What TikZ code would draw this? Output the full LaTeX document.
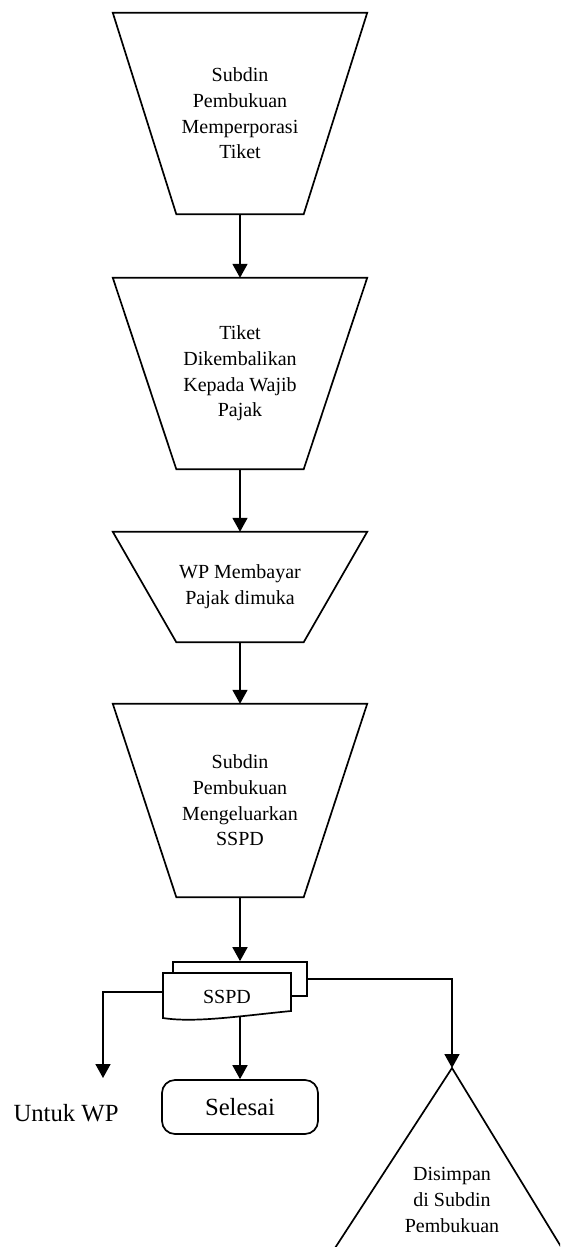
\documentclass[tikz,border=0pt]{standalone}
\usepackage{fontspec}
\setmainfont{Liberation Serif}
\usetikzlibrary{arrows.meta}
\tikzset{
  stroke/.style={line width=1.7pt, line join=miter},
  flow/.style={stroke, -{Triangle[length=14pt,width=15pt]}},
  txt/.style={inner sep=0pt, align=center, font=\fontsize{20}{25.7}\selectfont},
  proc/.style={txt, minimum width=254pt},
  bigtxt/.style={inner sep=0pt, align=center, font=\fontsize{24.7}{30}\selectfont},
}
\begin{document}
\begin{tikzpicture}[x=1pt,y=-1pt]
\useasboundingbox (0,0) rectangle (560,1247);
\clip (0,0) rectangle (560,1247);

% process steps (manual operations, drawn as inverted trapezoids)
\node[proc, minimum height=201pt] (t1) at (240,113.5) {Subdin\\Pembukuan\\Memperporasi\\Tiket};
\node[proc, minimum height=191pt] (t2) at (240,373.5) {Tiket\\Dikembalikan\\Kepada Wajib\\Pajak};
\node[proc, minimum height=110pt] (t3) at (240,587) {WP Membayar\\Pajak dimuka};
\node[proc, minimum height=193pt] (t4) at (240,800.5) {Subdin\\Pembukuan\\Mengeluarkan\\SSPD};
\foreach \n in {t1,t2,t3,t4}
  \draw[stroke] (\n.north west) -- (\n.north east)
     -- ([xshift=-63.5pt]\n.south east) -- ([xshift=63.5pt]\n.south west) -- cycle;

\draw[flow] (t1.south) -- (t2.north);
\draw[flow] (t2.south) -- (t3.north);
\draw[flow] (t3.south) -- (t4.north);

% SSPD document with its copy behind it
\node[stroke, draw, fill=white, minimum width=134pt, minimum height=34pt, inner sep=0pt] (sheet) at (240,979) {};
\draw[stroke, fill=white] (163,973) -- (291,973) -- (291,1011)
   .. controls (240,1016) and (195,1023) .. (163,1018) -- cycle;
\node[txt] (sspd) at (227,997) {SSPD};
\coordinate (docL) at (163,992);
\coordinate (docB) at (240,1016.4);

\draw[flow] (t4.south) -- (sheet.north);

% outputs
\coordinate (wp) at (103,1078);
\node[bigtxt] (uwp) at (66,1113.5) {Untuk WP};
\node[stroke, draw, rounded corners=13pt, minimum width=156pt, minimum height=54pt, inner sep=0pt, font=\fontsize{24.7}{30}\selectfont] (sel) at (240,1107) {Selesai};

\coordinate (apex) at (452,1068);
\draw[stroke] (322,1268) -- (apex) -- (574,1268);
\node[txt] (store) at (452,1200) {Disimpan\\di Subdin\\Pembukuan};

\draw[flow] (docL) -| (wp);
\draw[flow] (docB) -- (sel.north);
\draw[flow] (sheet.east) -| (apex);
\end{tikzpicture}
\end{document}
